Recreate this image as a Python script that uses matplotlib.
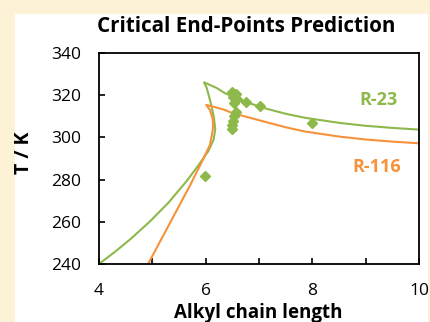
import matplotlib
matplotlib.use("Agg")
import matplotlib.pyplot as plt
from matplotlib.patches import Rectangle

# R-23 critical line: lower branch up to the cusp, then the upper branch
r23_x = [4.00, 4.30, 4.60, 4.96, 5.30, 5.64, 5.85, 6.05, 6.15, 6.18, 6.15, 6.09, 6.02, 5.97,
         6.20, 6.36, 6.70, 7.11, 7.50, 7.86, 8.50, 9.00, 9.50, 10.00]
r23_T = [240.0, 245.8, 252.0, 260.3, 269.0, 279.2, 286.3, 293.5, 299.0, 304.0, 310.0, 316.9, 323.4, 326.1,
         323.5, 321.0, 317.2, 313.8, 311.2, 309.3, 306.9, 305.5, 304.5, 303.7]

# R-116 critical line
r116_x = [4.92, 5.30, 5.71, 5.95, 6.08, 6.13, 6.14, 6.13, 6.08, 6.01,
          6.20, 6.36, 6.49, 7.11, 7.50, 7.86, 8.50, 9.00, 9.50, 10.00]
r116_T = [240.0, 258.0, 277.4, 289.5, 296.5, 303.0, 306.0, 309.0, 313.0, 315.4,
          314.2, 313.0, 311.6, 307.4, 304.8, 302.8, 300.4, 299.0, 298.0, 297.2]

# experimental critical end-points
exp_n = [5.99, 6.50, 6.56, 6.52, 6.58, 6.54, 6.75, 7.02,
         6.56, 6.54, 6.52, 6.50, 6.49, 8.00]
exp_T = [281.7, 321.5, 320.5, 319.0, 318.0, 316.5, 317.0, 315.0,
         312.0, 310.0, 308.0, 306.0, 304.0, 306.8]

green = "#8DB84A"
orange = "#F7913A"
font = "Open Sans"

fig = plt.figure(figsize=(4.31, 3.22), dpi=100)
fig.patch.set_facecolor("#FDF2D5")
fig.patches.append(Rectangle((15 / 431, 0), 413 / 431, 1 - 14 / 322,
                             transform=fig.transFigure, facecolor="white",
                             edgecolor="none", zorder=-1))

ax = fig.add_axes([99 / 431, 1 - 264 / 322, 320 / 431, 211 / 322])
ax.set_zorder(1)
ax.plot(r23_x, r23_T, color=green, lw=1.5)
ax.plot(r116_x, r116_T, color=orange, lw=1.5)
ax.plot(exp_n, exp_T, ls="none", marker="D", ms=4.6, color=green, mec=green)

ax.set_xlim(4, 10)
ax.set_ylim(240, 340)
ax.set_xticks(range(4, 11))
ax.set_xticklabels(["4", "", "6", "", "8", "", "10"])
ax.set_yticks(range(240, 341, 20))
ax.tick_params(direction="in", length=4, width=1.2, labelsize=12.5, color="black")
ax.tick_params(axis="x", pad=14)
ax.tick_params(axis="y", pad=13)
for lab in ax.get_xticklabels() + ax.get_yticklabels():
    lab.set_fontfamily(font)
for sp in ax.spines.values():
    sp.set_linewidth(1.3)

ax.text(9.25, 317.7, "R-23", color=green, fontsize=13, fontweight="bold",
        family=font, ha="center", va="center")
ax.text(9.20, 286.2, "R-116", color=orange, fontsize=13, fontweight="bold",
        family=font, ha="center", va="center")

fig.text(246 / 431, 1 - 32 / 322, "Critical End-Points Prediction", fontsize=14.8,
         fontweight="bold", family=font, ha="center", va="baseline")
fig.text(258.5 / 431, 1 - 318 / 322, "Alkyl chain length", fontsize=13.5,
         fontweight="bold", family=font, ha="center", va="baseline")
fig.text(24.5 / 431, 1 - 153 / 322, "T / K", fontsize=14, fontweight="bold",
         family=font, rotation=90, ha="center", va="center")

fig.savefig("out.png", dpi=100)
